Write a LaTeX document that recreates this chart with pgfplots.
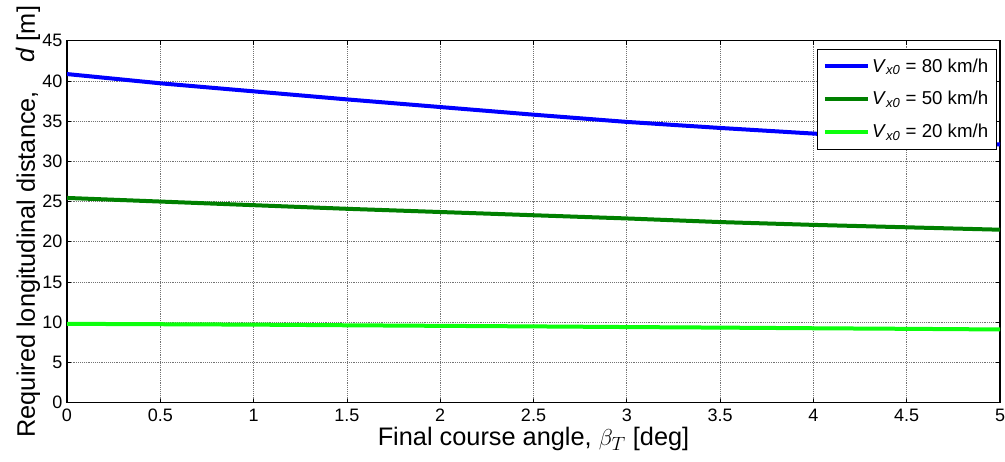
\documentclass[border=0pt]{standalone}
\usepackage{pgfplots}
\pgfplotsset{compat=1.18}
\usepackage{fontspec}
\setmainfont{Liberation Sans}

\definecolor{lineblue}{rgb}{0,0,1}
\definecolor{darkgreen}{rgb}{0,0.5,0}
\definecolor{brightgreen}{rgb}{0.05,1,0.05}

% required distance d [m] against final course angle beta_T [deg]
\pgfplotstableread{
beta  v80    v50    v20
0.0   40.85  25.45  9.80
0.5   39.70  25.00  9.75
1.0   38.70  24.55  9.70
1.5   37.70  24.10  9.62
2.0   36.75  23.70  9.55
2.5   35.80  23.30  9.48
3.0   34.90  22.90  9.40
3.5   34.15  22.45  9.33
4.0   33.45  22.10  9.25
4.5   32.75  21.80  9.18
5.0   32.10  21.50  9.10
}\dist

\begin{document}
\begin{tikzpicture}
\begin{axis}[
  name=ax,
  scale only axis,
  width=699.75pt, height=271.5pt,
  xmin=0, xmax=5, ymin=0, ymax=45,
  xtick={0,0.5,...,5},
  ytick={0,5,...,45},
  xticklabels={0,0.5,1,1.5,2,2.5,3,3.5,4,4.5,5},
  /pgf/number format/assume math mode=true,
  tick label style={font=\fontsize{13.5}{15}\selectfont},
  xticklabel style={inner ysep=0.5pt, yshift=-4pt},
  tick align=inside,
  major tick length=3pt,
  tick style={black, line width=0.5pt},
  axis line style={line width=0.8pt},
  grid=major,
  grid style={densely dotted, black!55, line width=0.5pt},
  xlabel={Final course angle, $\beta_T$ [deg]},
  ylabel={Required longitudinal distance,\ \ \ \ \textit{d} [m]},
  label style={font=\fontsize{19}{22}\selectfont},
  xlabel style={at={(axis description cs:0.5,-0.119)}, anchor=base, inner ysep=1pt},
  ylabel style={at={(axis description cs:-0.0343,0.5)}, anchor=base},
  legend style={at={(rel axis cs:0.9965,0.978)}, anchor=north east,
    draw=black, line width=0.8pt, fill=white,
    font=\fontsize{14}{16}\selectfont,
    row sep=9pt, inner xsep=4pt, inner ysep=5pt},
  legend cell align=left,
  legend image code/.code={\draw[#1, line width=3pt] (0pt,0pt) -- (32pt,0pt);},
]
\addplot[lineblue, line width=3pt] table[x=beta, y=v80] {\dist};
\addlegendentry{\textit{V}\textsubscript{\textit{x0}} = 80 km/h}
\addplot[darkgreen, line width=3pt] table[x=beta, y=v50] {\dist};
\addlegendentry{\textit{V}\textsubscript{\textit{x0}} = 50 km/h}
\addplot[brightgreen, line width=3pt] table[x=beta, y=v20] {\dist};
\addlegendentry{\textit{V}\textsubscript{\textit{x0}} = 20 km/h}
\end{axis}
\pgfresetboundingbox
\path[use as bounding box] ([xshift=-50.25pt, yshift=-43.75pt]ax.south west)
  rectangle ([xshift=3.75pt, yshift=30.5pt]ax.north east);
\end{tikzpicture}
\end{document}
